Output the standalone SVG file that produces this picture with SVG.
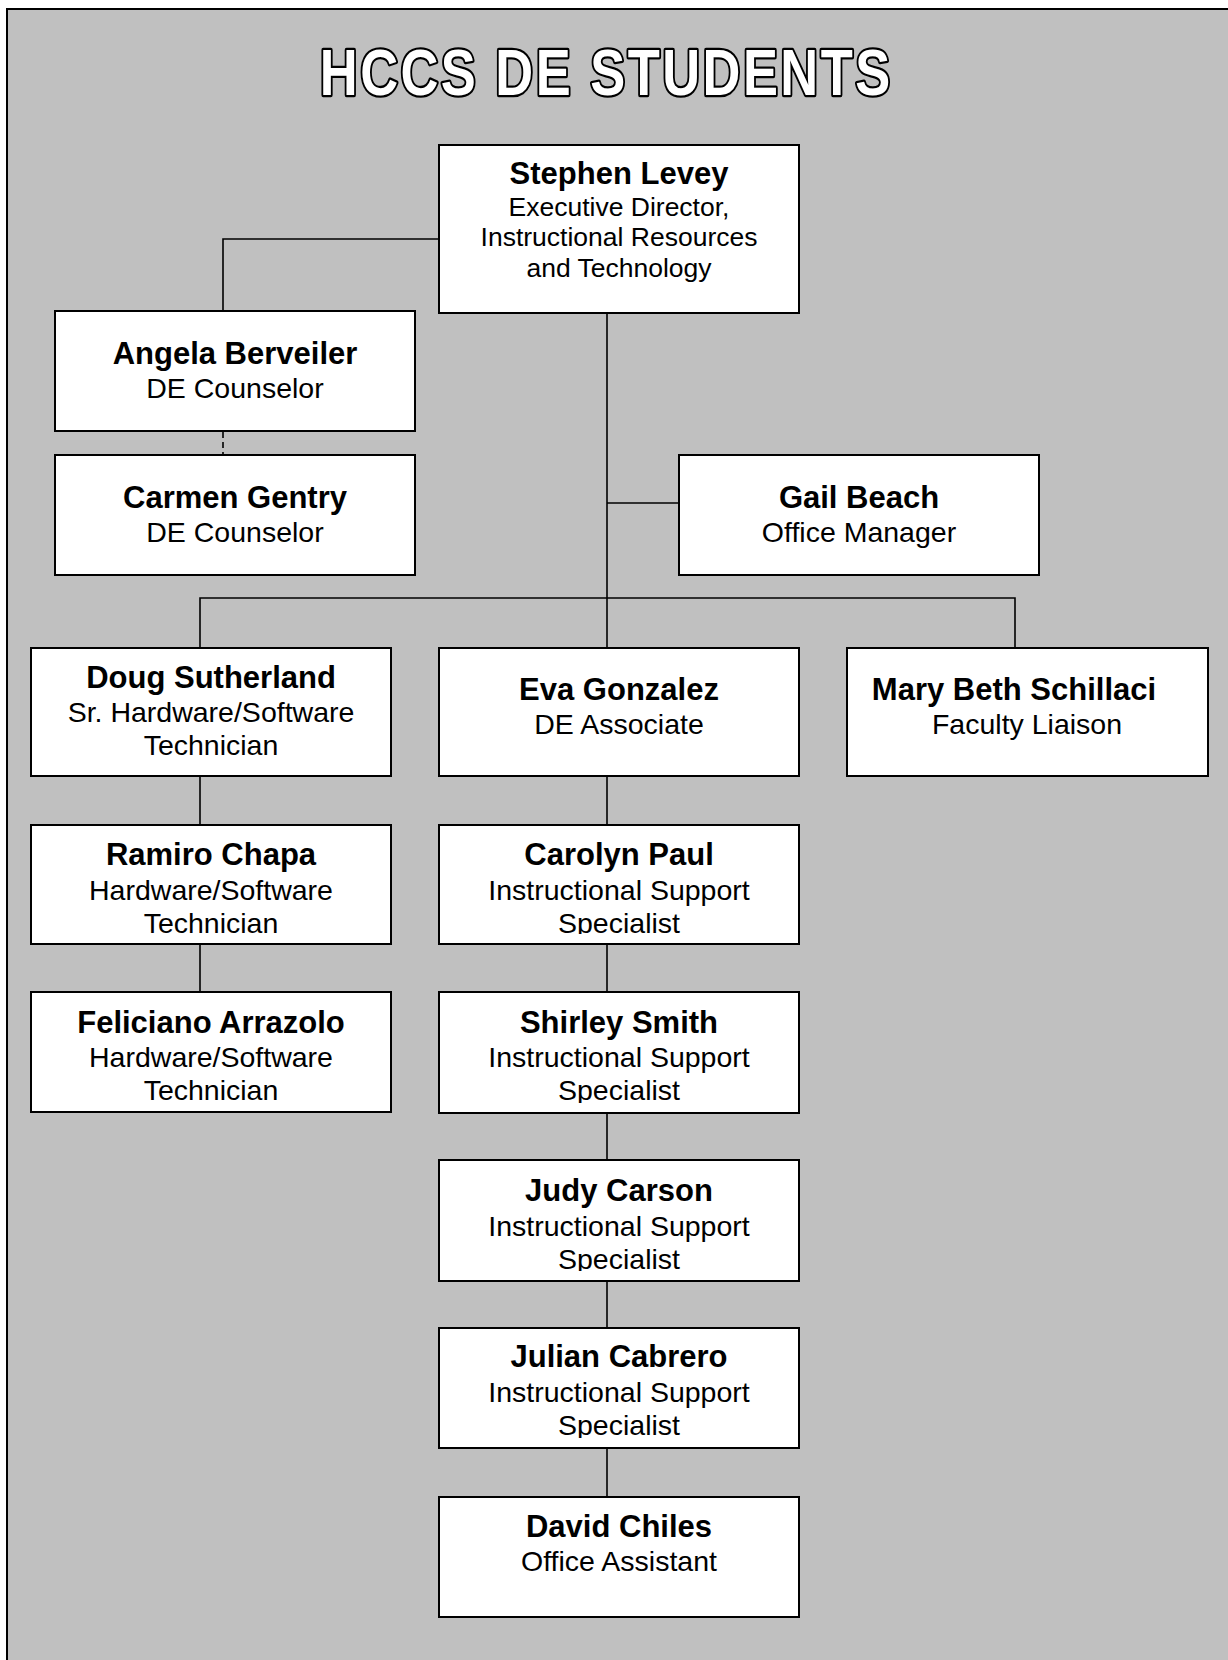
<svg xmlns="http://www.w3.org/2000/svg" width="1228" height="1660" viewBox="0 0 1228 1660">
<style>
.box{fill:#fff;stroke:#000;stroke-width:2}
.nm{font-family:"Liberation Sans",Arial,sans-serif;font-weight:bold;font-size:31px;text-anchor:middle;fill:#000}
.sb{font-family:"Liberation Sans",Arial,sans-serif;font-size:28.5px;text-anchor:middle;fill:#000}
.sb2{font-family:"Liberation Sans",Arial,sans-serif;font-size:26.5px;text-anchor:middle;fill:#000}
.ln{stroke:#000;stroke-width:1.6;fill:none}
.title{font-family:"Liberation Sans",Arial,sans-serif;font-weight:bold;font-size:64px;letter-spacing:3px;fill:#fff;stroke:#000;stroke-width:4.5;paint-order:stroke;stroke-linejoin:round}
</style>
<defs>
<clipPath id="c1"><rect x="439" y="826" width="360" height="108"/></clipPath>
<clipPath id="c2"><rect x="439" y="993" width="360" height="110"/></clipPath>
<clipPath id="c3"><rect x="439" y="1161" width="360" height="110"/></clipPath>
<clipPath id="c4"><rect x="439" y="1329" width="360" height="109"/></clipPath>
</defs>
<rect x="0" y="0" width="1228" height="1660" fill="#fff"/>
<rect x="7" y="9" width="1240" height="1670" fill="#c0c0c0" stroke="#000" stroke-width="2"/>
<text class="title" transform="scale(0.82,1)" x="390" y="95">HCCS DE STUDENTS</text>

<g id="connectors">
<polyline class="ln" points="439,239 223,239 223,311"/>
<line class="ln" x1="223" y1="432" x2="223" y2="454" stroke-dasharray="6,4"/>
<line class="ln" x1="607" y1="310" x2="607" y2="648"/>
<line class="ln" x1="607" y1="503" x2="679" y2="503"/>
<polyline class="ln" points="200,648 200,598 1015,598 1015,648"/>
<line class="ln" x1="200" y1="776" x2="200" y2="825"/>
<line class="ln" x1="200" y1="944" x2="200" y2="992"/>
<line class="ln" x1="607" y1="776" x2="607" y2="825"/>
<line class="ln" x1="607" y1="944" x2="607" y2="992"/>
<line class="ln" x1="607" y1="1113" x2="607" y2="1160"/>
<line class="ln" x1="607" y1="1281" x2="607" y2="1328"/>
<line class="ln" x1="607" y1="1448" x2="607" y2="1497"/>
</g>

<g id="stephen"><rect class="box" x="439" y="145" width="360" height="168"/>
<text class="nm" x="619" y="184">Stephen Levey</text>
<text class="sb2" x="619" y="215.5">Executive Director,</text>
<text class="sb2" x="619" y="246">Instructional Resources</text>
<text class="sb2" x="619" y="276.5">and Technology</text></g>

<g id="angela"><rect class="box" x="55" y="311" width="360" height="120"/>
<text class="nm" x="235" y="364">Angela Berveiler</text>
<text class="sb" x="235" y="398">DE Counselor</text></g>

<g id="carmen"><rect class="box" x="55" y="455" width="360" height="120"/>
<text class="nm" x="235" y="508">Carmen Gentry</text>
<text class="sb" x="235" y="542">DE Counselor</text></g>

<g id="gail"><rect class="box" x="679" y="455" width="360" height="120"/>
<text class="nm" x="859" y="508">Gail Beach</text>
<text class="sb" x="859" y="542">Office Manager</text></g>

<g id="doug"><rect class="box" x="31" y="648" width="360" height="128"/>
<text class="nm" x="211" y="687.5">Doug Sutherland</text>
<text class="sb" x="211" y="722">Sr. Hardware/Software</text>
<text class="sb" x="211" y="755">Technician</text></g>

<g id="eva"><rect class="box" x="439" y="648" width="360" height="128"/>
<text class="nm" x="619" y="700">Eva Gonzalez</text>
<text class="sb" x="619" y="734">DE Associate</text></g>

<g id="mary"><rect class="box" x="847" y="648" width="361" height="128"/>
<text class="nm" x="1014" y="700">Mary Beth Schillaci</text>
<text class="sb" x="1027" y="734">Faculty Liaison</text></g>

<g id="ramiro"><rect class="box" x="31" y="825" width="360" height="119"/>
<text class="nm" x="211" y="865">Ramiro Chapa</text>
<text class="sb" x="211" y="900">Hardware/Software</text>
<text class="sb" x="211" y="933">Technician</text></g>

<g id="feliciano"><rect class="box" x="31" y="992" width="360" height="120"/>
<text class="nm" x="211" y="1032.5">Feliciano Arrazolo</text>
<text class="sb" x="211" y="1067">Hardware/Software</text>
<text class="sb" x="211" y="1100">Technician</text></g>

<g id="carolyn"><rect class="box" x="439" y="825" width="360" height="119"/>
<g clip-path="url(#c1)">
<text class="nm" x="619" y="865">Carolyn Paul</text>
<text class="sb" x="619" y="900">Instructional Support</text>
<text class="sb" x="619" y="933">Specialist</text></g></g>

<g id="shirley"><rect class="box" x="439" y="992" width="360" height="121"/>
<g clip-path="url(#c2)">
<text class="nm" x="619" y="1032.5">Shirley Smith</text>
<text class="sb" x="619" y="1067">Instructional Support</text>
<text class="sb" x="619" y="1100">Specialist</text></g></g>

<g id="judy"><rect class="box" x="439" y="1160" width="360" height="121"/>
<g clip-path="url(#c3)">
<text class="nm" x="619" y="1201">Judy Carson</text>
<text class="sb" x="619" y="1236">Instructional Support</text>
<text class="sb" x="619" y="1268.5">Specialist</text></g></g>

<g id="julian"><rect class="box" x="439" y="1328" width="360" height="120"/>
<g clip-path="url(#c4)">
<text class="nm" x="619" y="1367">Julian Cabrero</text>
<text class="sb" x="619" y="1402">Instructional Support</text>
<text class="sb" x="619" y="1435">Specialist</text></g></g>

<g id="david"><rect class="box" x="439" y="1497" width="360" height="120"/>
<text class="nm" x="619" y="1537">David Chiles</text>
<text class="sb" x="619" y="1571">Office Assistant</text></g>
</svg>
